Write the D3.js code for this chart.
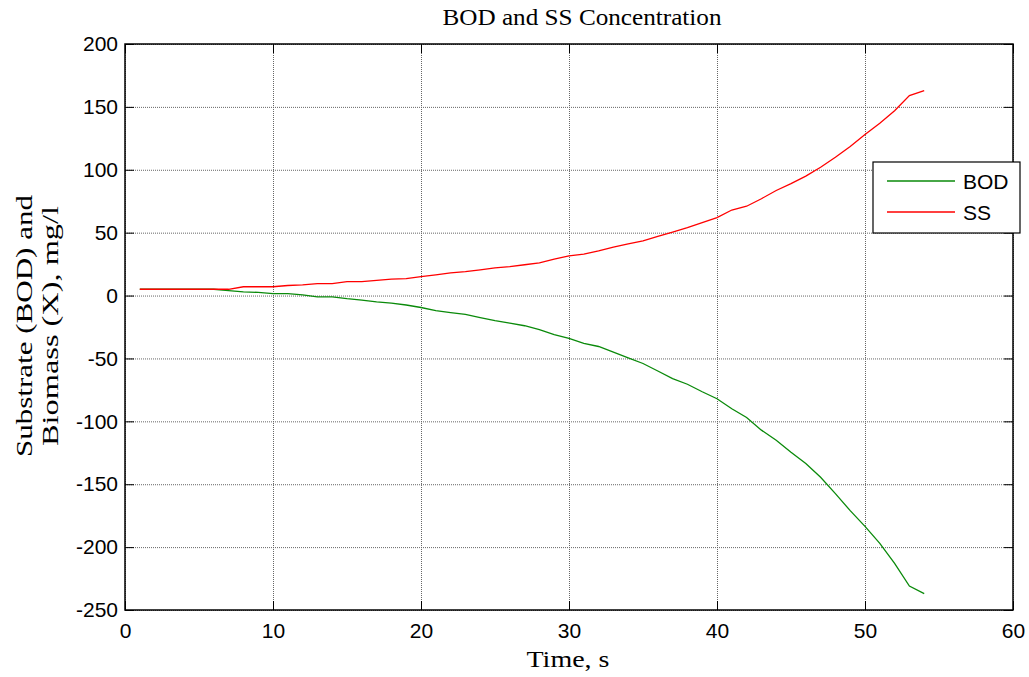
<!DOCTYPE html>
<html lang="en">
<head>
  <meta charset="UTF-8" />
  <title>BOD and SS Concentration</title>
  <script src="https://d3js.org/d3.v7.min.js"></script>
  <style>
    body { margin: 0; background: #fff; }
    .tick text { font-family: Arial, "Liberation Sans", sans-serif; font-size: 21px; fill: #000; }
    .serif { font-family: "Times New Roman", "Liberation Serif", serif; fill: #000; }
  </style>
</head>
<body>
  <div id="chart"></div>
  <script>
    // data
    const time = d3.range(1, 55);
    const bod = [5, 5, 5, 5, 5, 5, 4, 3, 2.5, 1.5,
      1.5, 0.5, -1, -1, -2.5, -3.7, -5, -6, -7.5, -9.5,
      -12, -13.5, -15, -17.5, -20, -22, -24, -27, -31, -34,
      -38, -40.5, -45, -49.5, -54, -60, -66, -70.5, -76.5, -82,
      -90, -97, -107, -115, -124.5, -133.5, -144.5, -157.5, -171, -183.5,
      -197, -213, -231, -237];
    const ss = [5, 5, 5, 5, 5, 5, 5, 7, 7, 7,
      8, 8.5, 9.5, 9.5, 11, 11, 12, 13, 13.5, 15,
      16.5, 18, 19, 20.5, 22, 23, 24.5, 26, 29, 31.5,
      33, 35.5, 38.5, 41, 43.5, 47, 50.5, 54, 58, 62,
      68, 71, 77, 83.5, 89, 95, 102, 110, 118.5, 128,
      137, 147, 159, 163];
    const xTicks = [0, 10, 20, 30, 40, 50, 60];
    const yTicks = [200, 150, 100, 50, 0, -50, -100, -150, -200, -250];
    const seriesNames = ["BOD", "SS"];
    const seriesColors = ["#0a8a0a", "#ff0000"];

    const width = 1029, height = 677;
    const margin = { top: 44, right: 16, bottom: 67, left: 125 };
    const w = width - margin.left - margin.right;
    const h = height - margin.top - margin.bottom;

    const svg = d3.select("#chart").append("svg")
      .attr("width", width)
      .attr("height", height);

    const g = svg.append("g")
      .attr("transform", `translate(${margin.left},${margin.top})`);

    const x = d3.scaleLinear().domain([0, 60]).range([0, w]);
    const y = d3.scaleLinear().domain([-250, 200]).range([h, 0]);
    const fmt = d => String(d); // plain hyphen minus like matlab

    // grid (dotted, matlab style)
    g.append("g")
      .attr("transform", `translate(0,${h})`)
      .call(d3.axisBottom(x).tickValues(xTicks).tickSize(-h).tickFormat(""))
      .call(s => s.select(".domain").remove())
      .selectAll("line")
      .attr("stroke", "#666").attr("stroke-dasharray", "1,1");
    g.append("g")
      .call(d3.axisLeft(y).tickValues(yTicks).tickSize(-w).tickFormat(""))
      .call(s => s.select(".domain").remove())
      .selectAll("line")
      .attr("stroke", "#666").attr("stroke-dasharray", "1,1");

    // lines
    const line = d3.line()
      .x((d, i) => x(time[i]))
      .y(d => y(d));

    [bod, ss].forEach((vals, k) => {
      g.append("path")
        .datum(vals)
        .attr("fill", "none")
        .attr("stroke", seriesColors[k])
        .attr("stroke-width", 1.3)
        .attr("d", line);
    });

    // axes with inward ticks
    const tick = 9;
    g.append("g")
      .attr("transform", `translate(0,${h})`)
      .call(d3.axisBottom(x).tickValues(xTicks).tickSize(-tick).tickPadding(13).tickFormat(fmt))
      .call(s => s.select(".domain").remove());
    g.append("g")
      .call(d3.axisTop(x).tickValues(xTicks).tickSize(-tick).tickFormat(""))
      .call(s => s.select(".domain").remove());
    g.append("g")
      .call(d3.axisLeft(y).tickValues(yTicks).tickSize(-tick).tickPadding(7).tickFormat(fmt))
      .call(s => s.select(".domain").remove());
    g.append("g")
      .attr("transform", `translate(${w},0)`)
      .call(d3.axisRight(y).tickValues(yTicks).tickSize(-tick).tickFormat(""))
      .call(s => s.select(".domain").remove());
    g.selectAll(".tick line").filter(function () { return !this.getAttribute("stroke-dasharray"); })
      .attr("stroke", "#000");

    g.append("rect")
      .attr("width", w).attr("height", h)
      .attr("fill", "none").attr("stroke", "#000").attr("stroke-width", 1.5);

    // title and labels
    svg.append("text").attr("class", "serif")
      .attr("x", 582).attr("y", 25)
      .attr("text-anchor", "middle").attr("font-size", 24)
      .attr("textLength", 279).attr("lengthAdjust", "spacingAndGlyphs")
      .text("BOD and SS Concentration");

    svg.append("text").attr("class", "serif")
      .attr("x", 568).attr("y", 667)
      .attr("text-anchor", "middle").attr("font-size", 24)
      .attr("textLength", 83).attr("lengthAdjust", "spacingAndGlyphs")
      .text("Time, s");

    const yl = svg.append("text").attr("class", "serif")
      .attr("transform", `translate(32,326) rotate(-90)`)
      .attr("text-anchor", "middle").attr("font-size", 24);
    yl.append("tspan").attr("x", 0).attr("dy", 0)
      .attr("textLength", 262).attr("lengthAdjust", "spacingAndGlyphs")
      .text("Substrate (BOD) and");
    yl.append("tspan").attr("x", 0).attr("dy", 26)
      .attr("textLength", 240).attr("lengthAdjust", "spacingAndGlyphs")
      .text("Biomass (X), mg/l");

    // legend
    const leg = svg.append("g").attr("transform", "translate(873,162)");
    leg.append("rect").attr("width", 147).attr("height", 71)
      .attr("fill", "#fff").attr("stroke", "#000").attr("stroke-width", 1.2);
    seriesNames.forEach((name, i) => {
      const ly = 19 + i * 31;
      leg.append("line")
        .attr("x1", 14).attr("x2", 82).attr("y1", ly).attr("y2", ly)
        .attr("stroke", seriesColors[i]).attr("stroke-width", 1.3);
      leg.append("text")
        .attr("x", 90).attr("y", ly + 8)
        .attr("font-family", "Arial, 'Liberation Sans', sans-serif")
        .attr("font-size", 21)
        .text(name);
    });
  </script>
</body>
</html>
